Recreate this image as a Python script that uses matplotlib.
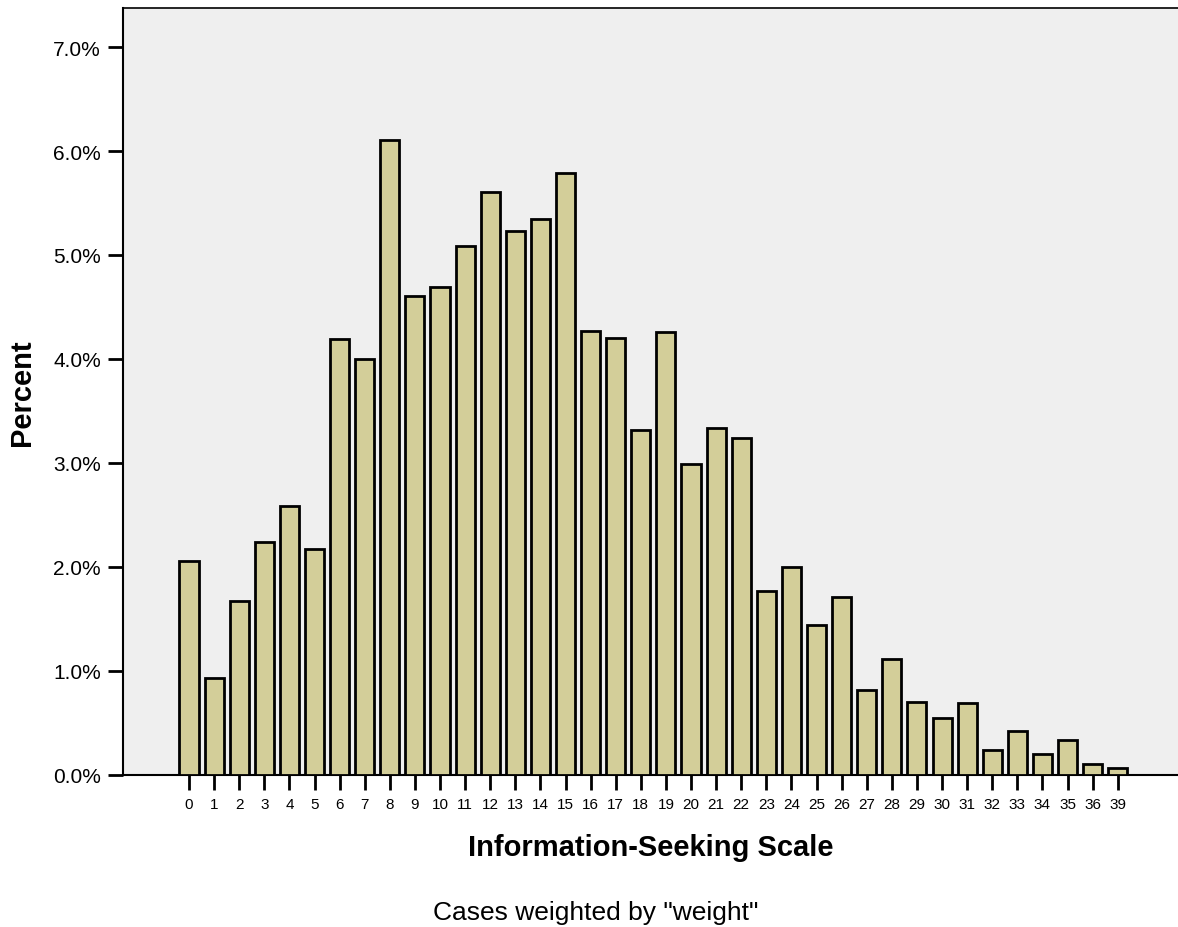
import matplotlib
matplotlib.use("Agg")
import matplotlib.pyplot as plt
import numpy as np

plt.rcParams['font.family'] = ['Liberation Sans', 'DejaVu Sans']

# Data
scores = ['0', '1', '2', '3', '4', '5', '6', '7', '8', '9', '10', '11', '12', '13',
          '14', '15', '16', '17', '18', '19', '20', '21', '22', '23', '24', '25', '26',
          '27', '28', '29', '30', '31', '32', '33', '34', '35', '36', '39']
percent = [2.06, 0.93, 1.67, 2.24, 2.59, 2.17, 4.19, 4.00, 6.11, 4.61, 4.69, 5.09,
           5.61, 5.23, 5.35, 5.79, 4.27, 4.20, 3.32, 4.26, 2.99, 3.34, 3.24, 1.77,
           2.00, 1.44, 1.71, 0.82, 1.12, 0.70, 0.55, 0.69, 0.24, 0.42, 0.20, 0.34,
           0.11, 0.07]
yticks = [0, 1, 2, 3, 4, 5, 6, 7]

fig = plt.figure(figsize=(11.78, 9.28), dpi=100)
ax = fig.add_axes([0.1044, 0.1638, 0.8956, 0.8265])
ax.set_facecolor('#efefef')

pos = np.arange(len(scores))
ax.bar(pos, percent, width=0.76, color='#d3ce99', edgecolor='black', linewidth=2.0, zorder=3)

ax.set_xlim(-2.63, 39.4)
ax.set_ylim(0, 7.375)
ax.set_xticks(pos)
ax.set_xticklabels(scores, fontsize=11)
ax.set_yticks(yticks)
ax.set_yticklabels(['%.1f%%' % v for v in yticks], fontsize=15)
ax.tick_params(axis='x', length=11, width=2, pad=5)
ax.tick_params(axis='y', length=11, width=2, pad=5)

ax.spines['right'].set_visible(False)
ax.spines['top'].set_linewidth(1.2)
ax.spines['left'].set_linewidth(1.5)
ax.spines['bottom'].set_linewidth(1.5)

ax.set_xlabel('Information-Seeking Scale', fontsize=21, fontweight='bold')
ax.xaxis.label.set_va('center')
ax.xaxis.set_label_coords(0.5, -0.094)
ax.set_ylabel('Percent', fontsize=21, fontweight='bold')
ax.yaxis.label.set_va('center')
ax.yaxis.set_label_coords(-0.0957, 0.5)

fig.text(596 / 1178, 8 / 928, 'Cases weighted by "weight"', fontsize=19,
         ha='center', va='baseline')

fig.savefig('out.png', dpi=100)
